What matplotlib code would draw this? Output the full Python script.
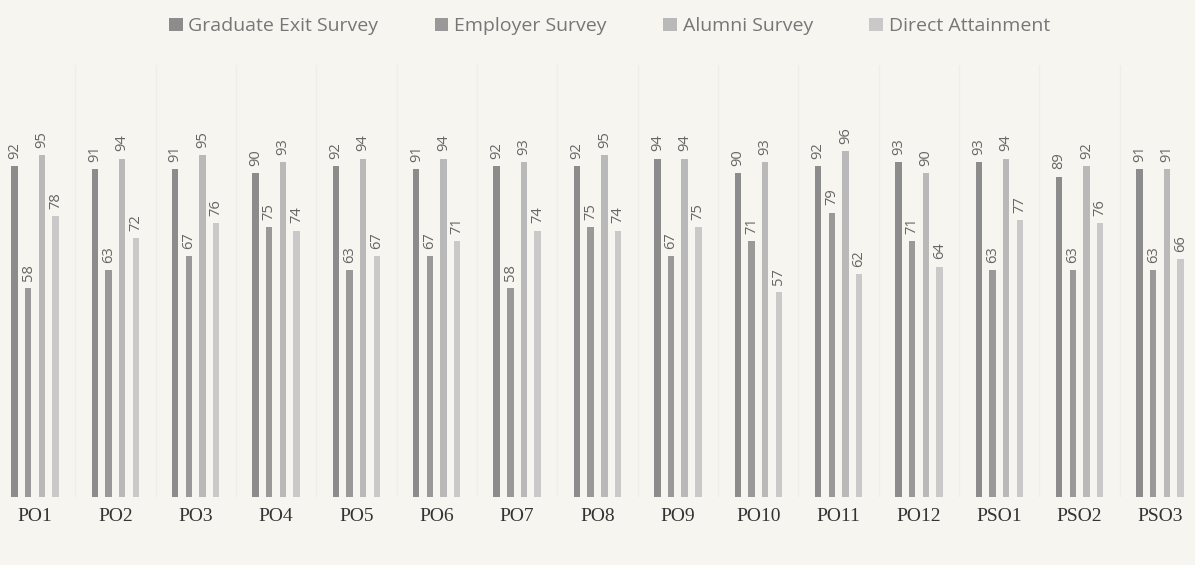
import numpy as np
import matplotlib.pyplot as plt

categories = ['PO1', 'PO2', 'PO3', 'PO4', 'PO5', 'PO6', 'PO7', 'PO8', 'PO9',
              'PO10', 'PO11', 'PO12', 'PSO1', 'PSO2', 'PSO3']
graduate_exit = [92, 91, 91, 90, 92, 91, 92, 92, 94, 90, 92, 93, 93, 89, 91]
employer = [58, 63, 67, 75, 63, 67, 58, 75, 67, 71, 79, 71, 63, 63, 63]
alumni = [95, 94, 95, 93, 94, 94, 93, 95, 94, 93, 96, 90, 94, 92, 91]
direct = [78, 72, 76, 74, 67, 71, 74, 74, 75, 57, 62, 64, 77, 76, 66]

series = [('Graduate Exit Survey', graduate_exit, '#8c8c8c'),
          ('Employer Survey', employer, '#999999'),
          ('Alumni Survey', alumni, '#b9b9b9'),
          ('Direct Attainment', direct, '#c9c9c9')]

bg = '#f6f5ef'
fig = plt.figure(figsize=(11.95, 5.65), dpi=100, facecolor=bg)
ax = fig.add_axes([0, 68/565, 1, 432/565], facecolor=bg)

x = np.arange(len(categories))
pitch = 0.17
width = 0.08
for i, (name, vals, col) in enumerate(series):
    pos = x + (i - 1.5) * pitch
    bars = ax.bar(pos, vals, width, color=col, label=name)
    for b, v in zip(bars, vals):
        ax.text(b.get_x() + b.get_width() / 2, v + 2, str(v), rotation=90,
                ha='center', va='bottom', fontsize=10.5, color='#666666',
                family='Open Sans')

# faint separators between groups
for s in x[:-1] + 0.5:
    ax.axvline(s, color='#efeee8', lw=1, zorder=0)

ax.set_xlim(-0.435, 14.435)
ax.set_ylim(0, 120)
ax.set_yticks([])
ax.set_xticks(x)
ax.set_xticklabels(categories, family='Liberation Serif', fontsize=14,
                   color='#333333')
ax.tick_params(axis='x', length=0, pad=8)
for sp in ax.spines.values():
    sp.set_visible(False)

leg = fig.legend(loc='upper center', bbox_to_anchor=(0.51, 1.0), ncol=4,
                 frameon=False, handlelength=0.7,
                 handleheight=0.7, handletextpad=0.3, columnspacing=2.9,
                 prop={'family': 'Open Sans', 'size': 14})
for t in leg.get_texts():
    t.set_color('#777777')

plt.savefig('out.png', dpi=100, facecolor=bg)
